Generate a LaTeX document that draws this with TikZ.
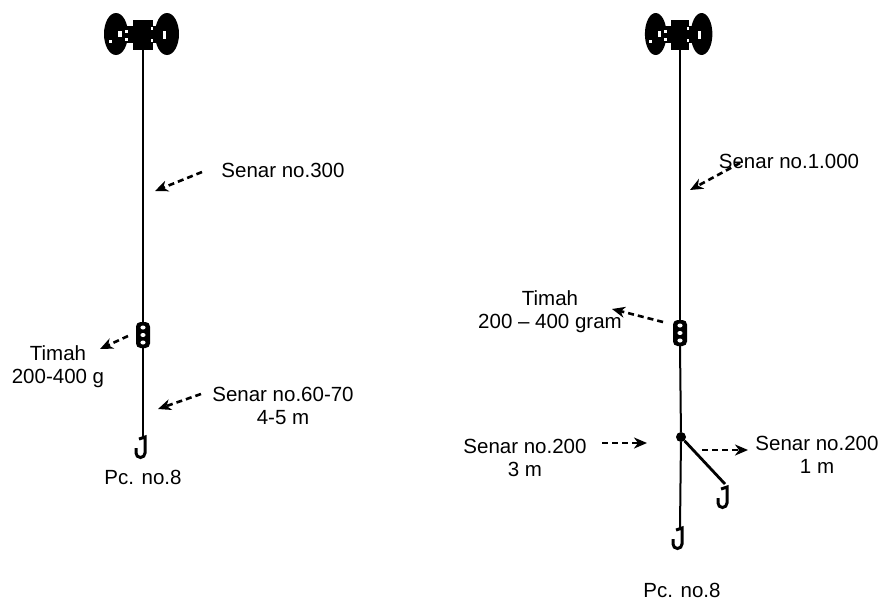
\documentclass[tikz,border=0pt]{standalone}
\usepackage{fontspec}
\setmainfont{Liberation Sans}
\usetikzlibrary{arrows.meta,calc}

\begin{document}
\begin{tikzpicture}[x=1pt,y=-1pt,
    rig/.style={line width=2pt},
    note/.style={line width=2.6pt,dash pattern=on 6pt off 4pt,
        -{Stealth[length=13pt,width=11pt,inset=4pt]}},
    lbl/.style={align=center,inner sep=0pt,font=\fontsize{20.5}{23}\selectfont},
    weight/.style={fill=black,rounded corners=4.5pt,minimum width=14pt,
        minimum height=26pt,inner sep=0pt},
    reel/.pic={
        \fill (-27,-1) ellipse [x radius=12, y radius=21];
        \fill (24,-1) ellipse [x radius=12, y radius=21];
        \fill (-20,-9) rectangle (20,8);
        \fill (-10,-15) rectangle (10,15);
        \fill[white] (-25,-4) rectangle (-21,2);
        \fill[white] (-34,5) rectangle (-31,8);
        \fill[white] (-18,-5) rectangle (-15,-2);
        \fill[white] (-18,3) rectangle (-15,6);
        \fill[white] (8,-8) rectangle (10,-5);
        \fill[white] (8,4) rectangle (10,7);
        \fill[white] (20,-4) rectangle (23,4);
    },
    hook/.pic={
        \draw[line width=3pt] (-4,2) -- (2,0) -- (2,16)
            arc[start angle=0,end angle=180,radius=4.5] -- (-7,11);
    }]
    \useasboundingbox (0,0) rectangle (883,603);

    %% Left rig
    \pic at (143,35) {reel};
    \coordinate (lreel) at (143,50);
    \node[weight] (lsink) at (143,335) {};
    \foreach \d in {-7.5,0,7.5}
        \fill[white] ($(lsink.center)+(0,\d)$) ellipse [x radius=2.6, y radius=2];
    \coordinate (lhook) at (143,437);
    \draw[rig] (lreel) -- (lsink.north);
    \draw[rig] (lsink.south) -- (lhook);
    \pic at (lhook) {hook};
    %% Left labels
    \node[lbl] (L300) at (283,170) {Senar no.300};
    \coordinate (L300t) at (202,172);
    \coordinate (L300h) at (155,191);
    \draw[note] (L300t) -- (L300h);
    \node[lbl] (Ltim) at (58,367) {Timah\\200-400 g};
    \coordinate (Ltimt) at (128,336);
    \coordinate (Ltimh) at (100,349);
    \draw[note] (Ltimt) -- (Ltimh);
    \node[lbl] (L60) at (283,406) {Senar no.60-70\\4-5 m};
    \coordinate (L60t) at (201,394);
    \coordinate (L60h) at (158,409);
    \draw[note] (L60t) -- (L60h);
    \node[lbl] (Lpc) at (143,477) {Pc. no.8};

    %% Right rig
    \pic[xscale=0.9] at (680,35) {reel};
    \coordinate (rreel) at (680,50);
    \node[weight] (rsink) at (680,333) {};
    \foreach \d in {-7.5,0,7.5}
        \fill[white] ($(rsink.center)+(0,\d)$) ellipse [x radius=2.6, y radius=2];
    \node[circle,fill=black,inner sep=0pt,minimum size=10pt] (rjoint) at (681,437) {};
    \coordinate (rhook) at (680,528);
    \coordinate (rbranch) at (725,484);
    \draw[rig] (rreel) -- (rsink.north);
    \draw[rig] (rsink.south) -- (rjoint);
    \draw[rig] (rjoint) -- (rhook);
    \draw[line width=2.8pt] (rjoint) -- (rbranch);
    \pic at (rhook) {hook};
    \pic at (725,487) {hook};
    %% Right labels
    \node[lbl] (R1000) at (789,161) {Senar no.1.000};
    \coordinate (R1000t) at (740,163);
    \coordinate (R1000h) at (690,190);
    \draw[note] (R1000t) -- (R1000h);
    \node[lbl] (Rtim) at (550,312) {Timah\\200 -- 400 gram};
    \coordinate (Rtimt) at (663,322);
    \coordinate (Rtimh) at (612,309);
    \draw[note] (Rtimt) -- (Rtimh);
    \node[lbl] (R3m) at (525,458) {Senar no.200\\3 m};
    \coordinate (R3mt) at (602,443);
    \coordinate (R3mh) at (647,443);
    \draw[note] (R3mt) -- (R3mh);
    \node[lbl] (R1m) at (817,455) {Senar no.200\\1 m};
    \coordinate (R1mt) at (702,450);
    \coordinate (R1mh) at (748,450);
    \draw[note] (R1mt) -- (R1mh);
    \node[lbl] (Rpc) at (682,590) {Pc. no.8};
\end{tikzpicture}
\end{document}
